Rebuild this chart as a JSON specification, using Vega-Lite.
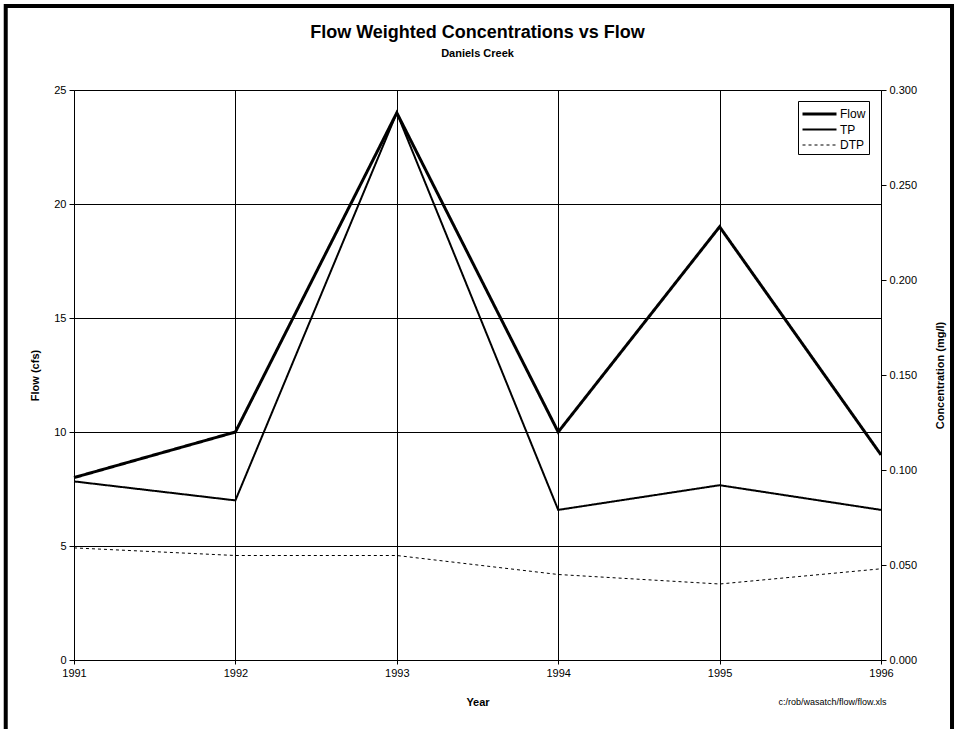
{
  "$schema": "https://vega.github.io/schema/vega-lite/v6.json",
  "width": 807,
  "height": 570,
  "autosize": {"type": "none"},
  "padding": {"left": 74, "top": 90, "right": 76, "bottom": 69},
  "background": "white",
  "title": {
    "text": "Flow Weighted Concentrations vs Flow",
    "subtitle": "Daniels Creek",
    "font": "Liberation Sans",
    "subtitleFont": "Liberation Sans",
    "fontSize": 18,
    "fontWeight": "bold",
    "subtitleFontSize": 11,
    "subtitleFontWeight": "bold",
    "color": "black",
    "subtitleColor": "black",
    "anchor": "middle",
    "offset": -55,
    "subtitlePadding": 6
  },
  "data": {
    "values": [
      {"year": 1991, "series": "Flow", "value": 8},
      {"year": 1992, "series": "Flow", "value": 10},
      {"year": 1993, "series": "Flow", "value": 24},
      {"year": 1994, "series": "Flow", "value": 10},
      {"year": 1995, "series": "Flow", "value": 19},
      {"year": 1996, "series": "Flow", "value": 9},
      {"year": 1991, "series": "TP", "value": 0.094},
      {"year": 1992, "series": "TP", "value": 0.084},
      {"year": 1993, "series": "TP", "value": 0.288},
      {"year": 1994, "series": "TP", "value": 0.079},
      {"year": 1995, "series": "TP", "value": 0.092},
      {"year": 1996, "series": "TP", "value": 0.079},
      {"year": 1991, "series": "DTP", "value": 0.059},
      {"year": 1992, "series": "DTP", "value": 0.055},
      {"year": 1993, "series": "DTP", "value": 0.055},
      {"year": 1994, "series": "DTP", "value": 0.045},
      {"year": 1995, "series": "DTP", "value": 0.040},
      {"year": 1996, "series": "DTP", "value": 0.048}
    ]
  },
  "layer": [
    {
      "layer": [
        {
          "transform": [{"filter": "datum.series === 'Flow'"}],
          "mark": {"type": "line", "color": "black"},
          "encoding": {
            "x": {"field": "year", "type": "quantitative", "title": "Year",
                  "scale": {"domain": [1991, 1996], "nice": false, "zero": false},
                  "axis": {"values": [1991, 1992, 1993, 1994, 1995, 1996], "format": "d", "grid": true, "tickSize": 4, "labelPadding": 3, "titlePadding": 18, "labelFlush": false}},
            "y": {"field": "value", "type": "quantitative", "title": "Flow (cfs)",
                  "scale": {"domain": [0, 25], "nice": false},
                  "axis": {"values": [0, 5, 10, 15, 20, 25], "grid": true, "tickSize": 5, "labelPadding": 3, "titlePadding": 13, "labelFlush": false}},
            "strokeDash": {"field": "series", "type": "nominal",
                  "scale": {"domain": ["Flow", "TP", "DTP"], "range": [[1, 0], [1, 0], [3, 3]]},
                  "legend": {"title": null}},
            "strokeWidth": {"field": "series", "type": "nominal",
                  "scale": {"domain": ["Flow", "TP", "DTP"], "range": [3, 1, 1.5]},
                  "legend": {"title": null}}
          }
        },
        {
          "data": {"values": [{"note": "c:/rob/wasatch/flow/flow.xls"}]},
          "mark": {"type": "text", "fontSize": 9, "fontWeight": "normal", "align": "center", "baseline": "middle", "color": "black"},
          "encoding": {
            "text": {"field": "note", "type": "nominal"},
            "x": {"datum": 1995.7, "type": "quantitative", "title": "Year", "scale": {"domain": [1991, 1996], "nice": false, "zero": false}},
            "y": {"datum": -1.84, "type": "quantitative", "title": "Flow (cfs)", "scale": {"domain": [0, 25], "nice": false}}
          }
        },
        {
          "data": {"values": [{"frame": 1}]},
          "mark": {"type": "rect", "filled": false, "stroke": "black", "strokeWidth": 4},
          "encoding": {
            "x": {"datum": 1990.577, "type": "quantitative", "title": "Year", "scale": {"domain": [1991, 1996], "nice": false, "zero": false}},
            "x2": {"datum": 1996.44},
            "y": {"datum": 28.68, "type": "quantitative", "title": "Flow (cfs)", "scale": {"domain": [0, 25], "nice": false}},
            "y2": {"datum": -3.6}
          }
        }
      ]
    },
    {
      "transform": [{"filter": "datum.series !== 'Flow'"}],
      "mark": {"type": "line", "color": "black"},
      "encoding": {
        "x": {"field": "year", "type": "quantitative", "title": "Year", "scale": {"domain": [1991, 1996], "nice": false, "zero": false}},
        "y": {"field": "value", "type": "quantitative", "title": "Concentration (mg/l)",
              "scale": {"domain": [0, 0.3], "nice": false},
              "axis": {"orient": "right", "values": [0, 0.05, 0.1, 0.15, 0.2, 0.25, 0.3], "format": ".3f", "grid": false, "tickSize": 5, "labelPadding": 3, "titlePadding": 29, "titleAngle": 270, "labelFlush": false}},
        "strokeDash": {"field": "series", "type": "nominal",
              "scale": {"domain": ["Flow", "TP", "DTP"], "range": [[1, 0], [1, 0], [3, 3]]},
              "legend": {"title": null}},
        "strokeWidth": {"field": "series", "type": "nominal",
              "scale": {"domain": ["Flow", "TP", "DTP"], "range": [3, 1, 1.5]},
              "legend": {"title": null}}
      }
    }
  ],
  "resolve": {"scale": {"y": "independent"}},
  "config": {
    "font": "Liberation Sans",
    "view": {"stroke": null},
    "axis": {
      "labelColor": "black",
      "titleColor": "black",
      "domainColor": "black",
      "tickColor": "black",
      "gridColor": "black",
      "gridOpacity": 1,
      "gridWidth": 1,
      "labelFontSize": 11,
      "titleFontSize": 11,
      "titleFontWeight": "bold",
      "labelFont": "Liberation Sans",
      "titleFont": "Liberation Sans"
    },
    "legend": {
      "orient": "none",
      "legendX": 724,
      "legendY": 11,
      "padding": 3,
      "strokeColor": "black",
      "fillColor": "white",
      "symbolType": "M-2,0H2",
      "symbolSize": 289,
      "symbolOffset": 8.5,
      "symbolStrokeColor": "black",
      "labelFontSize": 12,
      "labelColor": "black",
      "labelFont": "Liberation Sans",
      "labelOffset": 10.5,
      "rowPadding": 0,
      "cornerRadius": 0
    }
  }
}
